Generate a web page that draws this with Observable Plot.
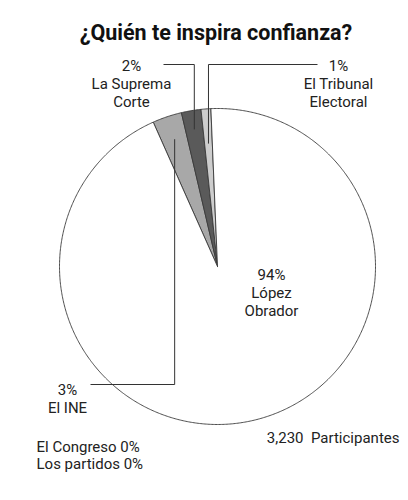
<!DOCTYPE html>
<html>
<head>
<meta charset="utf-8">
<script src="https://cdn.jsdelivr.net/npm/d3@7"></script>
<script src="https://cdn.jsdelivr.net/npm/@observablehq/plot@0.6"></script>
<style>
  html, body { margin: 0; padding: 0; background: #fff; }
  #title { height: 50px; box-sizing: border-box; padding-top: 21px; padding-left: 24px;
    font: bold 21.5px Roboto, sans-serif; line-height: 24px; text-align: center; color: #111; }
  #chart svg { display: block; }
</style>
</head>
<body>
<div id="title">¿Quién te inspira confianza?</div>
<div id="chart"></div>
<script>
// ---- data ----
const categories = ["El INE", "La Suprema Corte", "El Tribunal Electoral", "López Obrador"];
const percents = [3, 2, 1, 94];
const labelNames = ["El INE", "La Suprema\nCorte", "El Tribunal\nElectoral", "López\nObrador"];
const sliceColors = ["#a8a8a8", "#5a5a5a", "#cdcdcd", "#ffffff"];
const otherCategories = ["El Congreso", "Los partidos"];
const otherPercents = [0, 0];
const participants = 3230;

// ---- layout ----
const W = 408, H = 450;
const cx = 217, cy = 216, R = 158, startDeg = -24;
const layout = [
  {lx: 67,  base: 342, anchorR: 0.85, lineY: 334, endX: 90},
  {lx: 131, base: 18,  anchorR: 0.88, lineY: 14,  endX: 163},
  {lx: 338, base: 18,  anchorR: 0.78, lineY: 14,  endX: 317},
  {lx: 271, base: 227, anchorR: null}
];
const fs = 15, lh = 18;

// pie angles from data
const total = d3.sum(percents);
let acc = startDeg;
const slices = categories.map((c, i) => {
  const a0 = acc, a1 = acc + percents[i] / total * 360;
  acc = a1;
  return {cat: c, a0, a1, i};
});
const pt = (deg, r) => {
  const a = deg * Math.PI / 180;
  return [cx + r * Math.sin(a), cy - r * Math.cos(a)];
};
const polys = [];
for (const s of slices) {
  polys.push({cat: s.cat, x: cx, y: cy});
  const n = Math.max(2, Math.ceil((s.a1 - s.a0) / 0.5));
  for (let k = 0; k <= n; k++) {
    const [x, y] = pt(s.a0 + (s.a1 - s.a0) * k / n, R);
    polys.push({cat: s.cat, x, y});
  }
  polys.push({cat: s.cat, x: cx, y: cy});
}

// leader lines
const leaders = [];
slices.forEach((s, i) => {
  const L = layout[i];
  if (L.anchorR == null) return;
  const [ax, ay] = pt((s.a0 + s.a1) / 2, R * L.anchorR);
  leaders.push({cat: s.cat, x: ax, y: ay});
  leaders.push({cat: s.cat, x: ax, y: L.lineY});
  leaders.push({cat: s.cat, x: L.endX, y: L.lineY});
});

const labels = slices.map((s, i) => ({
  text: `${percents[i]}%\n${labelNames[i]}`,
  x: layout[i].lx,
  y: layout[i].base - 0.71 * fs
}));
const others = otherCategories.map((c, i) => ({
  text: `${c}\u00a0${otherPercents[i]}%`, x: 36, y: 401 + i * 17
}));

const chart = Plot.plot({
  width: W, height: H,
  marginTop: 0, marginRight: 0, marginBottom: 0, marginLeft: 0,
  x: {domain: [0, W], range: [0, W], axis: null},
  y: {domain: [0, H], range: [0, H], axis: null},
  color: {domain: categories, range: sliceColors},
  style: {fontFamily: "Roboto, sans-serif", fontSize: "15px", color: "#222", background: "#fff"},
  marks: [
    Plot.line(polys, {x: "x", y: "y", z: "cat", fill: "cat", stroke: "#3a3a3a", strokeWidth: 0.9, curve: "linear-closed"}),
    Plot.line(leaders, {x: "x", y: "y", z: "cat", stroke: "#333", strokeWidth: 1, strokeLinejoin: "miter", strokeLinecap: "butt"}),
    Plot.text(labels, {x: "x", y: "y", text: "text", lineAnchor: "top", lineHeight: lh / fs, fontSize: fs, fill: "#222"}),
    Plot.text(others, {x: "x", y: "y", text: "text", textAnchor: "start", lineAnchor: "bottom", fontSize: fs, fill: "#222"}),
    Plot.text([`${d3.format(",")(participants)}\u00a0\u00a0Participantes`], {x: () => 399, y: () => 392, text: d => d, textAnchor: "end", lineAnchor: "bottom", fontSize: fs, fill: "#222"})
  ]
});
document.getElementById("chart").appendChild(chart);
</script>
</body>
</html>
